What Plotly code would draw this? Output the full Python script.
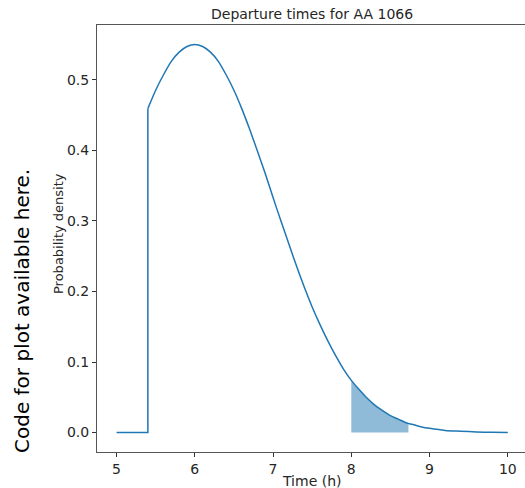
import plotly.graph_objects as go

# flat part before the truncation point
flat_x = [5.0, 5.4, 5.4]
flat_y = [0.0, 0.0, 0.459]

# density curve
curve_x = [5.4, 5.5, 5.6, 5.7, 5.8, 5.9, 6.0, 6.1, 6.2, 6.3, 6.4, 6.5, 6.6, 6.7, 6.8, 6.9,
           7.0, 7.1, 7.2, 7.3, 7.4, 7.5, 7.6, 7.7, 7.8, 7.9, 8.0, 8.1, 8.2, 8.3, 8.4, 8.5,
           8.6, 8.7, 8.8, 8.9, 9.0, 9.2, 9.4, 9.6, 9.8, 10.0]
curve_y = [0.459, 0.485, 0.507, 0.526, 0.539, 0.547, 0.550, 0.547, 0.539, 0.526, 0.507, 0.485,
           0.459, 0.430, 0.399, 0.367, 0.333, 0.300, 0.268, 0.236, 0.206, 0.178, 0.153, 0.130,
           0.109, 0.090, 0.074, 0.061, 0.049, 0.039, 0.031, 0.024, 0.019, 0.014, 0.011, 0.008,
           0.006, 0.003, 0.002, 0.001, 0.0004, 0.0002]

# shaded region
shade_x = [8.0, 8.1, 8.2, 8.3, 8.4, 8.5, 8.6, 8.7, 8.73]
shade_y = [0.074, 0.061, 0.049, 0.039, 0.031, 0.024, 0.019, 0.014, 0.013]

x_ticks = [5, 6, 7, 8, 9, 10]
y_ticks = [0.0, 0.1, 0.2, 0.3, 0.4, 0.5]
y_tick_labels = ["0.0", "0.1", "0.2", "0.3", "0.4", "0.5"]

blue = "#1f77b4"
txt = "#262626"
font = "DejaVu Sans"

fig = go.Figure()
fig.add_trace(go.Scatter(x=shade_x, y=shade_y, mode="lines", fill="tozeroy",
                         fillcolor="rgba(31,119,180,0.5)", line=dict(width=0),
                         hoverinfo="skip", showlegend=False))
fig.add_trace(go.Scatter(x=flat_x, y=flat_y, mode="lines",
                         line=dict(color=blue, width=1.5), showlegend=False))
fig.add_trace(go.Scatter(x=curve_x, y=curve_y, mode="lines",
                         line=dict(color=blue, width=1.5, shape="spline", smoothing=0.8),
                         showlegend=False))

fig.update_layout(
    width=525, height=488,
    margin=dict(l=97, r=0, t=25, b=36, autoexpand=False),
    paper_bgcolor="white", plot_bgcolor="white",
    font=dict(family=font, color=txt, size=14),
    xaxis=dict(range=[4.75, 10.22], tickvals=x_ticks, ticks="outside", ticklen=4,
               tickcolor="#333", showline=True, linecolor="#555", linewidth=1,
               mirror=True, showgrid=False, zeroline=False, automargin=False,
               tickfont=dict(size=14, family=font, color=txt)),
    yaxis=dict(range=[-0.0275, 0.5775], tickvals=y_ticks, ticktext=y_tick_labels,
               ticks="outside", ticklen=4, tickcolor="#333", showline=True,
               linecolor="#555", linewidth=1, showgrid=False, zeroline=False, automargin=False,
               tickfont=dict(size=14, family=font, color=txt)),
    annotations=[
        dict(text="Departure times for AA 1066", x=312, y=488 - 14,
             font=dict(size=14, family=font, color=txt)),
        dict(text="Time (h)", x=312, y=488 - 481,
             font=dict(size=14, family=font, color=txt)),
        dict(text="Probability density", x=58, y=488 - 234, textangle=-90,
             font=dict(size=13, family=font, color=txt)),
        dict(text="Code for plot available here.", x=22, y=488 - 311, textangle=-90,
             font=dict(size=20, family=font, color="black")),
    ],
)

# convert pixel positions of annotations into paper coordinates
pw, ph = 525 - 97, 488 - 25 - 36
for a in fig.layout.annotations:
    a.x = (a.x - 97) / pw
    a.y = (a.y - 36) / ph
    a.xref = "paper"
    a.yref = "paper"
    a.xanchor = "center"
    a.yanchor = "middle"
    a.showarrow = False

fig.write_html("out.html", config={"displayModeBar": False},
               post_script="document.body.style.margin='0';document.body.style.overflow='hidden';")
